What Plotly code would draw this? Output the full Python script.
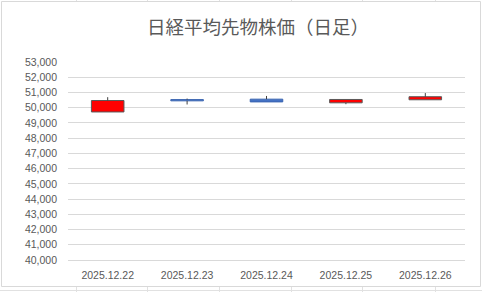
import plotly.graph_objects as go

dates = ["2025.12.22", "2025.12.23", "2025.12.24", "2025.12.25", "2025.12.26"]
open_ = [49720, 50530, 50560, 50320, 50520]
high = [50690, 50600, 50770, 50540, 50960]
low = [49720, 50210, 50380, 50230, 50520]
close = [50470, 50450, 50380, 50540, 50720]

up_fill, up_line = "#FF0000", "#595959"
dn_fill, dn_line = "#4472C4", "#3A64B0"
wick_color = "#404040"

body_base = [min(o, c) for o, c in zip(open_, close)]
body_top = [max(o, c) for o, c in zip(open_, close)]
body_h = [t - b for t, b in zip(body_top, body_base)]
fills = [up_fill if c >= o else dn_fill for o, c in zip(open_, close)]
lines = [up_line if c >= o else dn_line for o, c in zip(open_, close)]

wx, wy = [], []
for d, h, l, t, b in zip(dates, high, low, body_top, body_base):
    if h > t:
        wx += [d, d, None]
        wy += [t, h, None]
    if l < b:
        wx += [d, d, None]
        wy += [l, b, None]

fig = go.Figure()
fig.add_trace(go.Scatter(x=wx, y=wy, mode="lines",
                         line=dict(color=wick_color, width=1),
                         hoverinfo="skip", showlegend=False))
fig.add_trace(go.Bar(x=dates, y=body_h, base=body_base, width=0.41,
                     marker=dict(color=fills, line=dict(color=lines, width=1)),
                     showlegend=False))

W, H = 482, 292
L, R, T, B = 68, 17, 62, 32
pw, ph = W - L - R, H - T - B

def px2paper_x(px):
    return (px - L) / pw

def px2paper_y(py):
    return (H - B - py) / ph

shapes = [
    dict(type="rect", xref="paper", yref="paper",
         x0=px2paper_x(1.5), x1=px2paper_x(480.5),
         y0=px2paper_y(286.5), y1=px2paper_y(1.5),
         line=dict(color="#D9D9D9", width=1), layer="below"),
    dict(type="line", xref="paper", yref="paper",
         x0=px2paper_x(0), x1=px2paper_x(482),
         y0=px2paper_y(290.5), y1=px2paper_y(290.5),
         line=dict(color="#E1E1E1", width=1)),
]
for cx in [76.5, 147.5, 219.5, 291.5, 362.5, 435.5]:
    shapes.append(dict(type="line", xref="paper", yref="paper",
                       x0=px2paper_x(cx), x1=px2paper_x(cx),
                       y0=px2paper_y(287), y1=px2paper_y(292),
                       line=dict(color="#E1E1E1", width=1)))
    shapes.append(dict(type="line", xref="paper", yref="paper",
                       x0=px2paper_x(cx), x1=px2paper_x(cx),
                       y0=px2paper_y(0), y1=px2paper_y(1),
                       line=dict(color="#E1E1E1", width=1)))

fig.update_layout(
    width=W, height=H,
    margin=dict(l=L, r=R, t=T, b=B, pad=0),
    paper_bgcolor="white", plot_bgcolor="white",
    barmode="overlay",
    title=dict(text="日経平均先物株価（日足）", x=258 / W, xanchor="center",
               y=1 - 28 / H, yanchor="middle",
               font=dict(family="Noto Sans CJK JP", size=18.5, color="#595959")),
    font=dict(family="Liberation Sans", size=10, color="#595959"),
    xaxis=dict(type="category", range=[-0.5, 4.5], showgrid=False,
               showline=True, linecolor="#D9D9D9", ticks="", zeroline=False,
               ticklabelstandoff=5,
               tickfont=dict(size=10.5, color="#595959")),
    yaxis=dict(range=[40000, 53000], dtick=1000, tickformat=",",
               showgrid=True, gridcolor="#D9D9D9", gridwidth=1,
               zeroline=False, showline=False, ticks="",
               ticklabelstandoff=10,
               tickfont=dict(size=10.5, color="#595959")),
    shapes=shapes,
    showlegend=False,
)

fig.write_html("out.html")
